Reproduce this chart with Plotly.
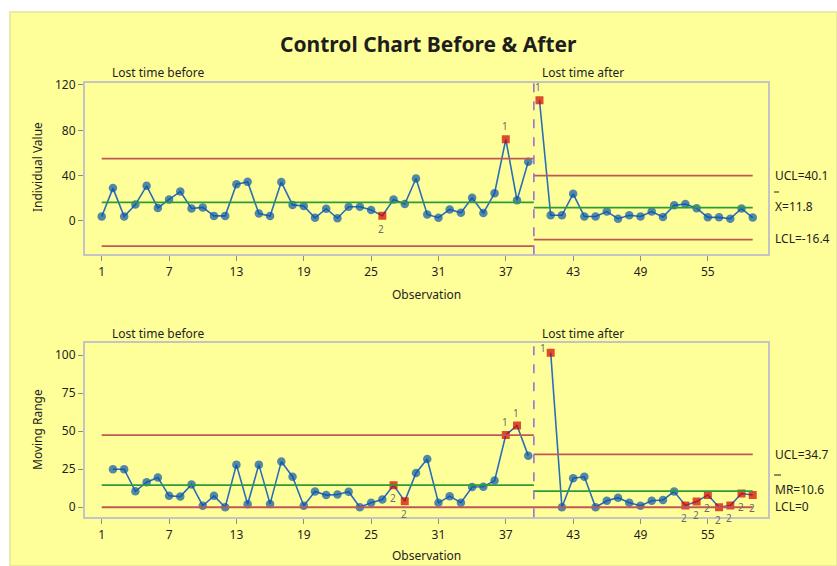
import plotly.graph_objects as go

# ---- data -------------------------------------------------------------
obs_before = list(range(1, 40))
obs_after = list(range(40, 60))

lost_before = [4, 29, 4, 14.5, 31, 11.5, 19, 26, 11, 12, 4.5, 4.5, 32.5, 34.5,
               6.5, 4.3, 34.3, 14.2, 13.2, 2.8, 10.8, 2.4, 12.6, 12.6, 9.7, 4.6,
               19, 15, 37.5, 5.8, 2.9, 10.2, 7.2, 20.5, 7, 24.5, 72, 18.3, 52.2]
lost_after = [106.5, 5, 5, 24, 4, 4, 8.3, 2, 5, 4, 8.3, 3.5, 13.8, 15, 11.3,
              3.2, 3.2, 2, 11, 3]

# control limits per stage: [before, after]
ind_cl = [16.5, 11.8]
ind_ucl = [55.1, 40.1]
ind_lcl = [-22.1, -16.4]
mr_cl = [14.5, 10.6]
mr_ucl = [47.4, 34.7]
mr_lcl = [0, 0]

# points failing a test (observation number, test id)
ind_flag_obs = [26, 37, 40]
ind_flag_test = ["2", "1", "1"]
mr_flag_obs = [27, 28, 37, 38, 41, 53, 54, 55, 56, 57, 58, 59]
mr_flag_test = ["2", "2", "1", "1", "1", "2", "2", "2", "2", "2", "2", "2"]

x_ticks = [1, 7, 13, 19, 25, 31, 37, 43, 49, 55]
ind_ticks = [0, 40, 80, 120]
mr_ticks = [0, 25, 50, 75, 100]

# ---- styling ------------------------------------------------------------
W, H = 837, 566
FONT = "Noto Sans"
TXT = "#1e1e1e"
BLUE_LINE = "#2a6ebb"
BLUE_DOT = "#0a56a8"
RED_DOT = "#d00000"
LIMIT = "#c05858"
CENTER = "#2f9a3a"
STAGE = "#9b6fe0"


def px_x(p):
    return p / W


def px_y(p):
    return (H - p) / H


def moving_range(vals):
    return [abs(b - a) for a, b in zip(vals[:-1], vals[1:])]


mr_before = moving_range(lost_before)
mr_after = moving_range(lost_after)
mr_obs_before = obs_before[1:]
mr_obs_after = obs_after[1:]

stage_edges = [obs_before[0], (obs_before[-1] + obs_after[0]) / 2, obs_after[-1]]

fig = go.Figure()


def add_series(xs, ys, flags, xa, ya):
    sym = ["square" if x in flags else "circle" for x in xs]
    col = [RED_DOT if x in flags else BLUE_DOT for x in xs]
    size = [8 if x in flags else 8.5 for x in xs]
    fig.add_trace(go.Scatter(
        x=xs, y=ys, mode="lines+markers", xaxis=xa, yaxis=ya,
        line=dict(color=BLUE_LINE, width=1.6),
        marker=dict(symbol=sym, color=col, size=size, line=dict(width=0)),
        showlegend=False, hoverinfo="x+y"))


add_series(obs_before, lost_before, ind_flag_obs, "x", "y")
add_series(obs_after, lost_after, ind_flag_obs, "x", "y")
add_series(mr_obs_before, mr_before, mr_flag_obs, "x2", "y2")
add_series(mr_obs_after, mr_after, mr_flag_obs, "x2", "y2")

shapes = [
    dict(type="rect", xref="paper", yref="paper", x0=px_x(10), x1=1.0,
         y0=0, y1=px_y(12), fillcolor="#ffff99",
         line=dict(color="#e4e49a", width=1.5), layer="below"),
    # bars over the X and MR symbols in the right-hand labels
    dict(type="line", xref="paper", yref="paper", x0=px_x(774), x1=px_x(779),
         y0=px_y(192), y1=px_y(192), line=dict(color=TXT, width=1)),
    dict(type="line", xref="paper", yref="paper", x0=px_x(774), x1=px_x(781),
         y0=px_y(475), y1=px_y(475), line=dict(color=TXT, width=1)),
]

for xr, yr, cls, ucls, lcls in [("x", "y", ind_cl, ind_ucl, ind_lcl),
                                ("x2", "y2", mr_cl, mr_ucl, mr_lcl)]:
    for s in range(2):
        x0, x1 = stage_edges[s], stage_edges[s + 1]
        for val, colr in [(ucls[s], LIMIT), (lcls[s], LIMIT), (cls[s], CENTER)]:
            shapes.append(dict(type="line", xref=xr, yref=yr, x0=x0, x1=x1,
                               y0=val, y1=val,
                               line=dict(color=colr, width=1.8)))
    shapes.append(dict(type="line", xref=xr, yref=yr + " domain",
                       x0=stage_edges[1], x1=stage_edges[1], y0=0, y1=1,
                       line=dict(color=STAGE, width=1.6, dash="dash")))

annotations = []


def note(text, x, y, size=12, xanchor="center", yanchor="middle", **kw):
    annotations.append(dict(text=text, x=x, y=y, xref="paper", yref="paper",
                            showarrow=False, xanchor=xanchor, yanchor=yanchor,
                            font=dict(family=FONT, size=size, color=TXT), **kw))


note("<b>Control Chart Before &amp; After</b>", px_x(429), px_y(44), size=21)

for top in (72, 333):
    note("Lost time before", px_x(110), px_y(top), xanchor="left")
    note("Lost time after", px_x(540), px_y(top), xanchor="left")

note("Individual Value", px_x(37), px_y(167), textangle=-90)
note("Moving Range", px_x(37), px_y(430), textangle=-90)
note("Observation", px_x(426), px_y(294))
note("Observation", px_x(426), px_y(555))

# limit values of the current stage, written at the right edge
note(f"UCL={ind_ucl[1]}", px_x(773), px_y(175), xanchor="left")
note(f"X={ind_cl[1]}", px_x(773), px_y(206), xanchor="left")
note(f"LCL={ind_lcl[1]}", px_x(773), px_y(238), xanchor="left")
note(f"UCL={mr_ucl[1]}", px_x(773), px_y(454), xanchor="left")
note(f"MR={mr_cl[1]}", px_x(773), px_y(490), xanchor="left")
note(f"LCL={mr_lcl[1]}", px_x(773), px_y(506), xanchor="left")

# failed-test labels beside the flagged points
lookup_ind = dict(zip(obs_before + obs_after, lost_before + lost_after))
lookup_mr = dict(zip(mr_obs_before + mr_obs_after, mr_before + mr_after))
for flags, tests, lookup, xr, yr in [
        (ind_flag_obs, ind_flag_test, lookup_ind, "x", "y"),
        (mr_flag_obs, mr_flag_test, lookup_mr, "x2", "y2")]:
    for o, t in zip(flags, tests):
        yshift = 13 if t == "1" else -13
        xshift = -1
        if lookup[o] > 100 and xr == "x2":
            # keep the label clear of the stage caption above the plot
            yshift, xshift = 5, -8
        annotations.append(dict(
            text=t, x=o, y=lookup[o], xref=xr, yref=yr, showarrow=False,
            yshift=yshift, xshift=xshift,
            font=dict(family=FONT, size=10, color="#6a6a6a")))

axis_common = dict(showline=True, mirror=True, linecolor="#c4c4c4",
                   linewidth=2, ticks="outside", ticklen=5,
                   tickcolor="#8c8c8c", tickwidth=1, showgrid=False,
                   zeroline=False, automargin=False,
                   tickfont=dict(family=FONT, size=12, color=TXT))

x_dom = [px_x(85), px_x(768)]
fig.update_layout(
    width=W, height=H, autosize=False,
    margin=dict(l=0, r=0, t=0, b=0, pad=0, autoexpand=False),
    paper_bgcolor="white", plot_bgcolor="white",
    font=dict(family=FONT, color=TXT),
    xaxis=dict(domain=x_dom, anchor="y", range=[-0.49, 60.36],
               tickvals=x_ticks, **axis_common),
    yaxis=dict(domain=[px_y(254.3), px_y(82.7)], anchor="x",
               range=[-29.4, 122], tickvals=ind_ticks, **axis_common),
    xaxis2=dict(domain=x_dom, anchor="y2", range=[-0.49, 60.36],
                tickvals=x_ticks, **axis_common),
    yaxis2=dict(domain=[px_y(517.3), px_y(342.7)], anchor="x2",
                range=[-6.6, 108.1], tickvals=mr_ticks, **axis_common),
    shapes=shapes,
    annotations=annotations,
    showlegend=False,
)

fig.write_html("out.html")
